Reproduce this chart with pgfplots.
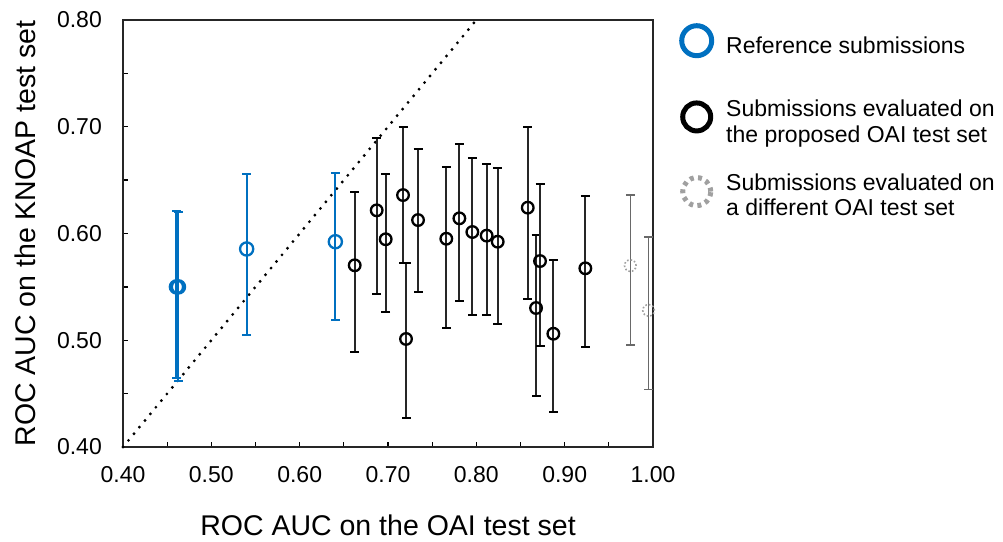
\documentclass[border=0pt]{standalone}
\usepackage{pgfplots}
\usepackage{pgfplotstable}
\pgfplotsset{compat=1.18}
\usepackage{fontspec}
\setmainfont{Liberation Sans}
\definecolor{refblue}{RGB}{0,112,192}
\definecolor{dotgray}{RGB}{160,160,160}
\definecolor{bargray}{RGB}{105,105,105}

\pgfplotstableread{
x y hi lo
0.4605 0.5500 0.6210 0.4646
0.4628 0.5500 0.6200 0.4620
0.5400 0.5855 0.6557 0.5046
0.6404 0.5923 0.6564 0.5187
}\blue
\pgfplotstableread{
x y hi lo
0.6623 0.5702 0.6389 0.4887
0.6872 0.6217 0.6892 0.5436
0.6974 0.5946 0.6557 0.5268
0.7170 0.6360 0.6995 0.5721
0.7204 0.5012 0.5721 0.4269
0.7340 0.6126 0.6792 0.5455
0.7660 0.5951 0.6626 0.5118
0.7808 0.6142 0.6835 0.5365
0.7955 0.6014 0.6704 0.5234
0.8117 0.5980 0.6651 0.5240
0.8242 0.5923 0.6617 0.5152
0.8582 0.6242 0.6998 0.5383
0.8676 0.5302 0.5986 0.4478
0.8721 0.5742 0.6464 0.4946
0.8872 0.5061 0.5752 0.4325
0.9234 0.5674 0.6351 0.4940
}\black
\pgfplotstableread{
x y hi lo
0.9743 0.5699 0.6358 0.4953
0.9950 0.5280 0.5967 0.4540
}\gray

\begin{document}
\begin{tikzpicture}[x=1pt,y=1pt]
\path[use as bounding box] (0,0) rectangle (1003,541);
\begin{axis}[
  at={(123pt,94pt)}, anchor=south west,
  scale only axis, width=530pt, height=427pt,
  xmin=0.4, xmax=1.0, ymin=0.4, ymax=0.8,
  xtick={0.4,0.5,0.6,0.7,0.8,0.9,1.0},
  ytick={0.4,0.5,0.6,0.7,0.8},
  minor tick num=1,
  tick pos=left, tick align=inside,
  major tick length=5pt, minor tick length=5pt,
  tick style={black, line width=1.3pt},
  axis line style={line width=1.6pt, black!85},
  clip=false,
  ticklabel style={font=\fontsize{23}{27}\selectfont, inner sep=0pt},
  /pgf/number format/.cd, fixed, fixed zerofill, precision=2, assume math mode=true,
  /pgfplots/.cd,
  yticklabel style={anchor=east, xshift=-21pt},
  xticklabel style={anchor=north, yshift=-19pt},
  xlabel={ROC AUC on the OAI test set},
  ylabel={ROC AUC on the KNOAP test set},
  label style={font=\fontsize{28.5}{32}\selectfont, inner sep=0pt},
  xlabel style={at={(axis description cs:0.5,0)}, anchor=base, yshift=-88pt},
  ylabel style={at={([xshift=-87pt]axis description cs:0,0.5)}, anchor=base, rotate=0},
  legend style={at={([xshift=26pt,yshift=-3pt]axis description cs:1,1)}, anchor=north west,
    draw=none, fill=none, inner sep=0pt, row sep=30pt, column sep=12pt,
    font=\fontsize{23}{25.5}\selectfont,
    nodes={align=left, inner sep=0pt}},
  legend cell align=left,
]
\addplot[black, line width=3.2pt, dash pattern=on 0pt off 8.6pt, line cap=round, forget plot]
  coordinates {(0.4,0.4) (0.8,0.8)};

\addplot[only marks, mark=o, mark size=6.6pt, refblue, forget plot,
  mark options={line width=2.3pt, fill=white, solid},
  error bars/.cd, y dir=both, y explicit,
  error mark=-, error mark options={rotate=90, line width=2pt, mark size=4.5pt, refblue},
  error bar style={line width=2pt, refblue}]
  table[x=x, y=y, y error plus expr=\thisrow{hi}-\thisrow{y}, y error minus expr=\thisrow{y}-\thisrow{lo}] {\blue};

\addplot[only marks, mark=o, mark size=5.8pt, black, forget plot,
  mark options={line width=2.3pt, fill=white, solid},
  error bars/.cd, y dir=both, y explicit,
  error mark=-, error mark options={rotate=90, line width=1.8pt, mark size=4.5pt, black},
  error bar style={line width=1.8pt, black!85}]
  table[x=x, y=y, y error plus expr=\thisrow{hi}-\thisrow{y}, y error minus expr=\thisrow{y}-\thisrow{lo}] {\black};

\addplot[only marks, mark=o, mark size=5.8pt, dotgray, forget plot,
  mark options={line width=1.6pt, fill=white, dash pattern=on 1.6pt off 2pt},
  error bars/.cd, y dir=both, y explicit,
  error mark=-, error mark options={rotate=90, line width=1.6pt, mark size=4.5pt, bargray, solid},
  error bar style={line width=1.6pt, bargray, solid}]
  table[x=x, y=y, y error plus expr=\thisrow{hi}-\thisrow{y}, y error minus expr=\thisrow{y}-\thisrow{lo}] {\gray};

\addlegendimage{legend image code/.code={\draw[refblue, line width=5pt] (15pt,5pt) circle (15pt); \path (0pt,-24.2pt);}}
\addlegendentry{Reference submissions}
\addlegendimage{legend image code/.code={\draw[black, line width=5pt] (15pt,5pt) circle (14pt);}}
\addlegendentry{Submissions evaluated on\\the proposed OAI test set}
\addlegendimage{legend image code/.code={\draw[dotgray, line width=5pt, dash pattern=on 4pt off 4.3pt] (15pt,4pt) circle (14pt);}}
\addlegendentry{Submissions evaluated on\\a different OAI test set}
\end{axis}
\end{tikzpicture}
\end{document}
